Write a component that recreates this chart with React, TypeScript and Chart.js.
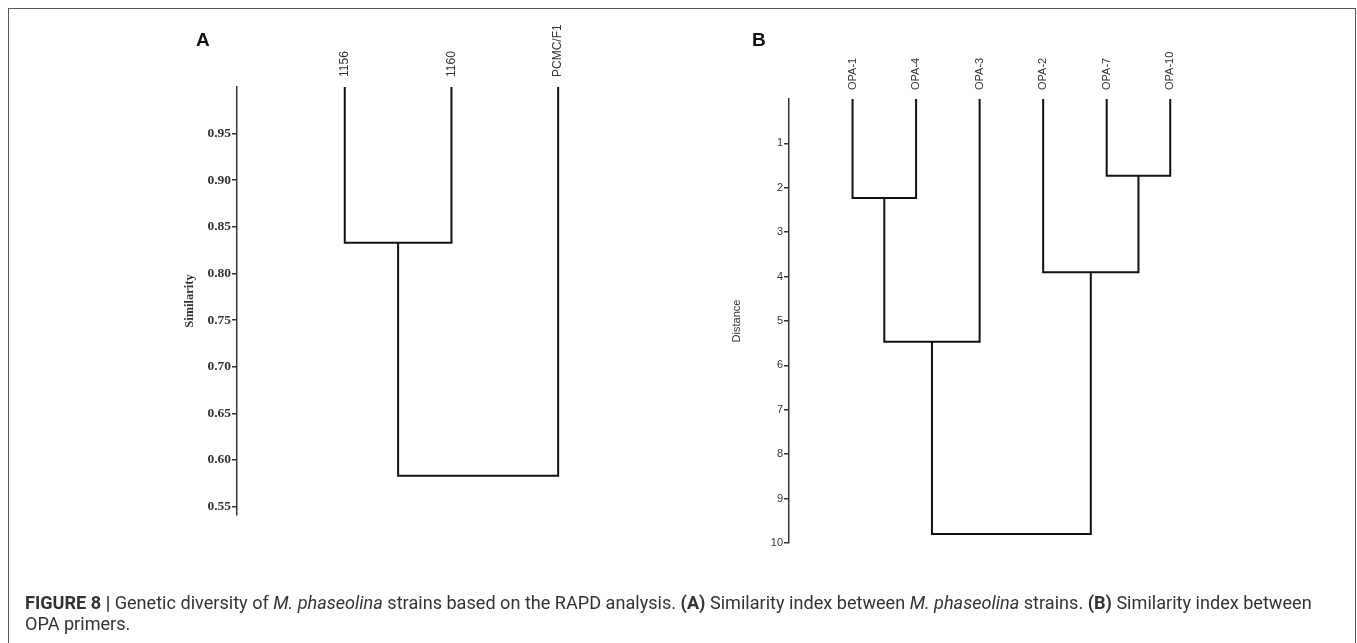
import React, { useEffect, useRef } from "react";
import { Chart, registerables } from "chart.js";

Chart.register(...registerables);

// ---------- Panel A: similarity between M. phaseolina strains ----------
const LEAVES_A = ["1156", "1160", "PCMC/F1"];
const LEAF_LEVEL_A = 1.0;
// merge k creates node id (LEAVES_A.length + k)
const MERGE_LEFT_A = [0, 3];
const MERGE_RIGHT_A = [1, 2];
const MERGE_HEIGHT_A = [0.833, 0.583];
const TICKS_A = [0.55, 0.6, 0.65, 0.7, 0.75, 0.8, 0.85, 0.9, 0.95];
const Y_MIN_A = 0.541;
const Y_MAX_A = 1.0;

// ---------- Panel B: distance between OPA primers ----------
const LEAVES_B = ["OPA-1", "OPA-4", "OPA-3", "OPA-2", "OPA-7", "OPA-10"];
const LEAF_LEVEL_B = 0;
const MERGE_LEFT_B = [0, 4, 6, 3, 8];
const MERGE_RIGHT_B = [1, 5, 2, 7, 9];
const MERGE_HEIGHT_B = [2.23, 1.73, 5.47, 3.9, 9.8];
const TICKS_B = [1, 2, 3, 4, 5, 6, 7, 8, 9, 10];
const Y_MIN_B = 0;
const Y_MAX_B = 10;

const W = 1357;
const H = 643;

function buildLinks(
  n: number,
  left: number[],
  right: number[],
  heights: number[],
  leafLevel: number
) {
  const xs: number[] = [];
  const hs: number[] = [];
  for (let i = 0; i < n; i++) {
    xs.push(i);
    hs.push(leafLevel);
  }
  const datasets: any[] = [];
  for (let k = 0; k < left.length; k++) {
    const a = left[k];
    const b = right[k];
    const h = heights[k];
    datasets.push({
      data: [
        { x: xs[a], y: hs[a] },
        { x: xs[a], y: h },
        { x: xs[b], y: h },
        { x: xs[b], y: hs[b] },
      ],
      showLine: true,
      borderColor: "#111",
      borderWidth: 2,
      borderJoinStyle: "miter",
      borderCapStyle: "butt",
      pointRadius: 0,
      tension: 0,
      clip: false,
    });
    xs.push((xs[a] + xs[b]) / 2);
    hs.push(h);
  }
  return datasets;
}

interface PanelCfg {
  leaves: string[];
  datasets: any[];
  ticks: number[];
  yMin: number;
  yMax: number;
  reverse: boolean;
  xMin: number;
  xMax: number;
  padLeft: number;
  axisX: number;
  areaTop: number;
  areaBottom: number;
  areaRight: number;
  leafFont: any;
  leafPad: number;
  tickFont: any;
  tickFmt: (v: number) => string;
  title: string;
  titleFont: any;
  labelOffset: number;
}

function makeConfig(p: PanelCfg): any {
  return {
    type: "scatter",
    data: { datasets: p.datasets },
    options: {
      animation: false,
      responsive: false,
      events: [],
      layout: {
        padding: {
          left: p.padLeft,
          top: 0,
          right: W - p.areaRight,
          bottom: H - p.areaBottom,
        },
      },
      plugins: {
        legend: { display: false },
        tooltip: { enabled: false },
        title: { display: false },
      },
      scales: {
        x: {
          type: "linear",
          position: "top",
          min: p.xMin,
          max: p.xMax,
          grid: { display: false, drawTicks: false, tickLength: 0 },
          border: { display: false },
          afterBuildTicks: (s: any) => {
            s.ticks = p.leaves.map((_, i) => ({ value: i }));
          },
          afterFit: (s: any) => {
            s.height = p.areaTop;
          },
          ticks: {
            autoSkip: false,
            minRotation: 90,
            maxRotation: 90,
            padding: p.leafPad,
            labelOffset: p.labelOffset,
            font: p.leafFont,
            color: "#333",
            callback: (v: any) => p.leaves[Math.round(Number(v))] ?? "",
          },
        },
        y: {
          type: "linear",
          position: "left",
          min: p.yMin,
          max: p.yMax,
          reverse: p.reverse,
          afterBuildTicks: (s: any) => {
            s.ticks = p.ticks.map((v) => ({ value: v }));
          },
          afterFit: (s: any) => {
            s.width = p.axisX - p.padLeft;
          },
          grid: {
            drawOnChartArea: false,
            drawTicks: true,
            tickLength: 5,
            color: "#333",
            lineWidth: 1.5,
          },
          border: { display: true, color: "#333", width: 1.5 },
          ticks: {
            padding: 1,
            font: p.tickFont,
            color: "#333",
            autoSkip: false,
            callback: (v: any) => p.tickFmt(Number(v)),
          },
          title: {
            display: true,
            text: p.title,
            font: p.titleFont,
            color: "#333",
            padding: 0,
          },
        },
      },
    },
  };
}

const panelA: PanelCfg = {
  leaves: LEAVES_A,
  datasets: buildLinks(LEAVES_A.length, MERGE_LEFT_A, MERGE_RIGHT_A, MERGE_HEIGHT_A, LEAF_LEVEL_A),
  ticks: TICKS_A,
  yMin: Y_MIN_A,
  yMax: Y_MAX_A,
  reverse: false,
  xMin: -1.01,
  xMax: 2.5,
  padLeft: 182,
  axisX: 237,
  areaTop: 87,
  areaBottom: 515,
  areaRight: 611.5,
  leafFont: { family: "'Liberation Sans', Arial, sans-serif", size: 12 },
  leafPad: 10,
  tickFont: { family: "'Liberation Serif', 'Times New Roman', serif", size: 13.5, weight: "bold" },
  tickFmt: (v) => v.toFixed(2),
  title: "Similarity",
  titleFont: { family: "'Liberation Serif', 'Times New Roman', serif", size: 12.5, weight: "bold" },
  labelOffset: 14.4,
};

const panelB: PanelCfg = {
  leaves: LEAVES_B,
  datasets: buildLinks(LEAVES_B.length, MERGE_LEFT_B, MERGE_RIGHT_B, MERGE_HEIGHT_B, LEAF_LEVEL_B),
  ticks: TICKS_B,
  yMin: Y_MIN_B,
  yMax: Y_MAX_B,
  reverse: true,
  xMin: -1.0,
  xMax: 5.5,
  padLeft: 730,
  axisX: 789,
  areaTop: 99,
  areaBottom: 543,
  areaRight: 1202,
  leafFont: { family: "'Liberation Sans', Arial, sans-serif", size: 11 },
  leafPad: 9,
  tickFont: { family: "'Liberation Sans', Arial, sans-serif", size: 11 },
  tickFmt: (v) => String(Math.round(v)),
  title: "Distance",
  titleFont: { family: "'Liberation Sans', Arial, sans-serif", size: 11 },
  labelOffset: 13.2,
};

function PanelCanvas({ cfg }: { cfg: PanelCfg }) {
  const ref = useRef<HTMLCanvasElement | null>(null);
  useEffect(() => {
    if (!ref.current) return;
    const chart = new Chart(ref.current, makeConfig(cfg));
    return () => chart.destroy();
  }, [cfg]);
  return (
    <canvas
      ref={ref}
      width={W}
      height={H}
      style={{ position: "absolute", left: 0, top: 0, width: W, height: H }}
    />
  );
}

const letterStyle: React.CSSProperties = {
  position: "absolute",
  fontFamily: "'Liberation Sans', Arial, sans-serif",
  fontWeight: "bold",
  fontSize: 19,
  lineHeight: "19px",
  color: "#111",
};

export default function App() {
  return (
    <div
      style={{
        position: "fixed",
        left: 0,
        top: 0,
        width: W,
        height: H,
        overflow: "hidden",
        background: "#fff",
      }}
    >
      <div
        style={{
          position: "absolute",
          left: 8,
          top: 8,
          width: 1348,
          height: 700,
          boxSizing: "border-box",
          border: "1px solid #555",
        }}
      />
      <PanelCanvas cfg={panelA} />
      <PanelCanvas cfg={panelB} />
      <div style={{ ...letterStyle, left: 196, top: 30 }}>A</div>
      <div style={{ ...letterStyle, left: 752, top: 30 }}>B</div>
      <div
        style={{
          position: "absolute",
          left: 25,
          top: 592,
          fontFamily: "Roboto, 'Liberation Sans', sans-serif",
          fontSize: 18.1,
          lineHeight: "21px",
          color: "#333",
          whiteSpace: "nowrap",
        }}
      >
        <b>FIGURE 8 |</b> Genetic diversity of <i>M. phaseolina</i> strains based on the RAPD analysis.{" "}
        <b>(A)</b> Similarity index between <i>M. phaseolina</i> strains. <b>(B)</b> Similarity index
        between
        <br />
        OPA primers.
      </div>
    </div>
  );
}
